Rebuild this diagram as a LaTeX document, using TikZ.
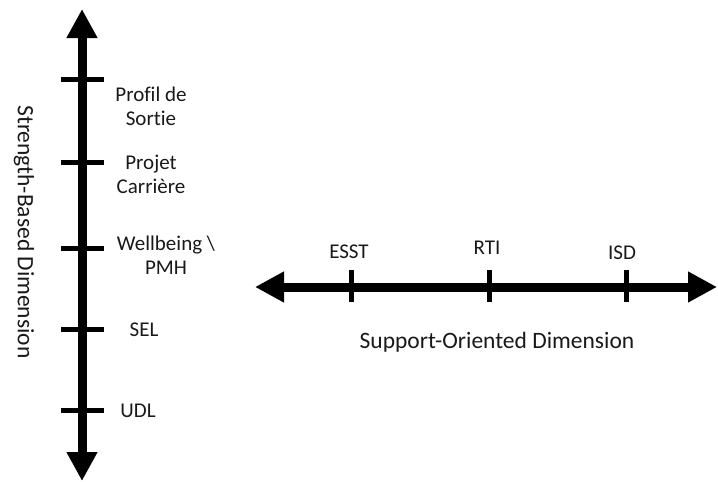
\documentclass[tikz,border=0pt]{standalone}
\usepackage{fontspec}
\setmainfont{Carlito}[Ligatures=NoCommon]
\usetikzlibrary{arrows.meta}
\begin{document}
\begin{tikzpicture}[x=1pt,y=-1pt,
  axisline/.style={line width=9pt,
    arrows={Triangle[width=29pt,length=29pt]-Triangle[width=29pt,length=29pt]}},
  tickmark/.style={line width=5pt},
  lbl/.style={font=\fontsize{21}{24}\selectfont, align=center, inner sep=0pt, text=black!90},
  axtitle/.style={font=\fontsize{23.5}{28}\selectfont, inner sep=0pt, text=black!90}]
\useasboundingbox (0,0) rectangle (718,482);

% vertical axis
\coordinate (vtop) at (82,9);
\coordinate (vbot) at (82,481);
\draw[axisline] (vbot) -- (vtop);

% horizontal axis
\coordinate (hleft) at (255,287);
\coordinate (hright) at (717,287);
\draw[axisline] (hleft) -- (hright);

% ticks on the vertical axis
\foreach \n/\y in {t1/79, t2/162, t3/248, t4/329, t5/410}{
  \coordinate (\n l) at (61,\y);
  \coordinate (\n r) at (104,\y);
  \draw[tickmark] (\n l) -- (\n r);
}

% ticks on the horizontal axis
\foreach \n/\x in {h1/351, h2/489, h3/626}{
  \coordinate (\n t) at (\x,270);
  \coordinate (\n b) at (\x,302);
  \draw[tickmark] (\n t) -- (\n b);
}

% labels on the vertical axis
\node[lbl] (profil) at (151,106) {Profil de\\Sortie};
\node[lbl] (projet) at (151,174) {Projet\\Carrière};
\node[lbl] (wellbeing) at (166,255) {Wellbeing \textbackslash\\PMH};
\node[lbl] (sel) at (144,330) {SEL};
\node[lbl] (udl) at (138,411) {UDL};

% labels on the horizontal axis
\node[lbl] (esst) at (349,252) {ESST};
\node[lbl] (rti) at (487,248) {RTI};
\node[lbl] (isd) at (622,253) {ISD};

% axis titles
\node[axtitle, rotate=-90] (strength) at (24,232) {Strength-Based Dimension};
\node[axtitle] (support) at (497,342) {Support-Oriented Dimension};
\end{tikzpicture}
\end{document}
